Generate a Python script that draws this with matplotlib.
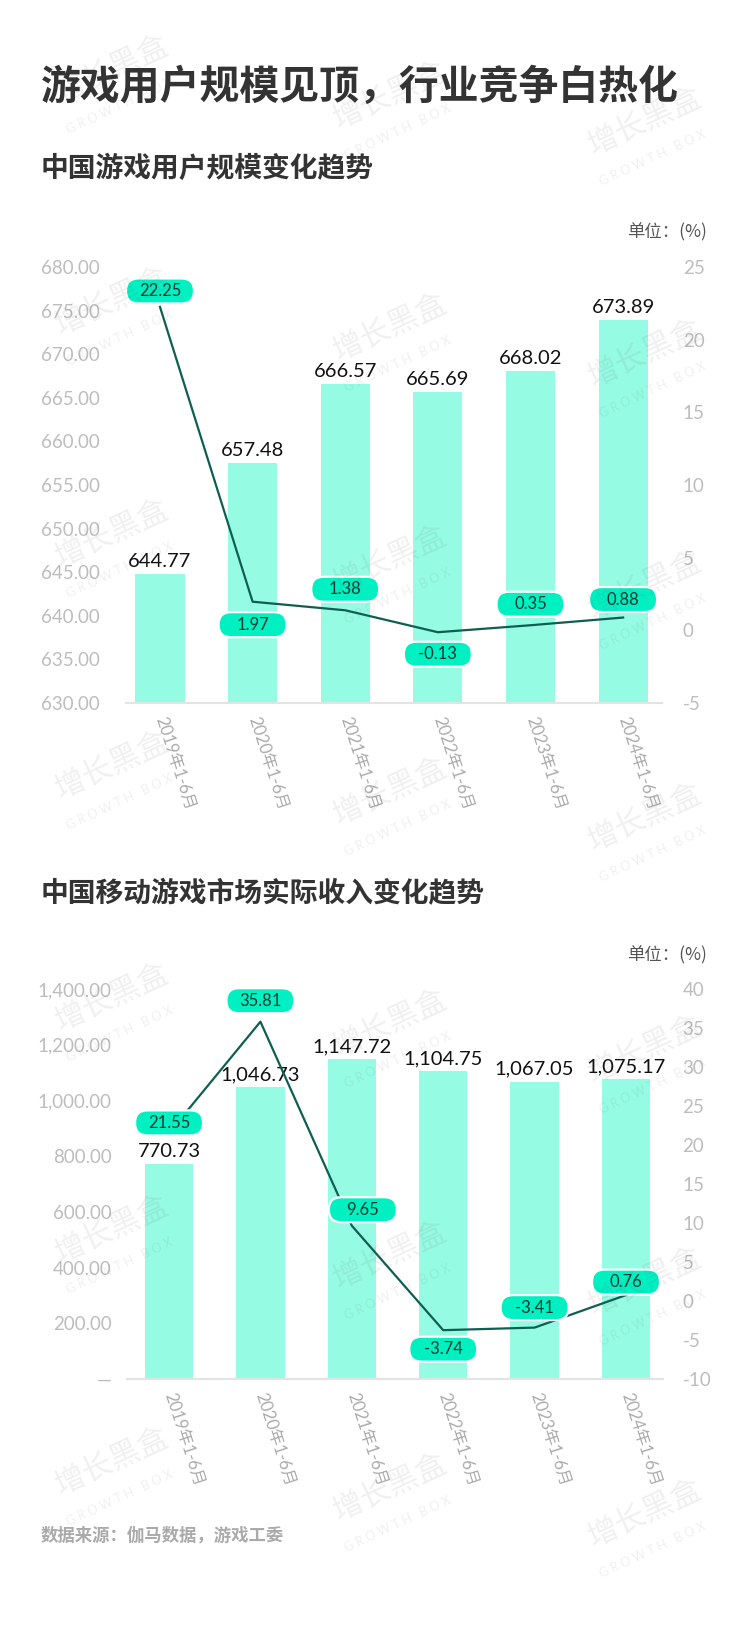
import matplotlib
matplotlib.use('Agg')
import matplotlib.pyplot as plt
import matplotlib.transforms as mtransforms
from matplotlib.patches import FancyBboxPatch

plt.rcParams['font.family'] = ['Lato', 'Noto Sans CJK SC', 'DejaVu Sans']

# data
periods = ['2019年1-6月', '2020年1-6月', '2021年1-6月', '2022年1-6月', '2023年1-6月', '2024年1-6月']

users = [644.77, 657.48, 666.57, 665.69, 668.02, 673.89]
users_growth = [22.25, 1.97, 1.38, -0.13, 0.35, 0.88]
users_ticks = [630, 635, 640, 645, 650, 655, 660, 665, 670, 675, 680]
users_growth_ticks = [-5, 0, 5, 10, 15, 20, 25]

revenue = [770.73, 1046.73, 1147.72, 1104.75, 1067.05, 1075.17]
revenue_growth = [21.55, 35.81, 9.65, -3.74, -3.41, 0.76]
revenue_ticks = [0, 200, 400, 600, 800, 1000, 1200, 1400]
revenue_growth_ticks = [-10, -5, 0, 5, 10, 15, 20, 25, 30, 35, 40]

# pill placement (px, + = up)
users_pill_dy = [16, -23, 21, -22, 21, 18]
users_pill_dx = [0, 0, 0, 0, 0, 0]
revenue_pill_dy = [10, 21, 16, -19, 20, 13]
revenue_pill_dx = [0, 0, 11, 0, 0, 0]

BAR = '#96FBE3'
PILL = '#00F0C2'
LINE = '#0E5F52'
TICK = '#BDBDBD'
W, H = 750, 1625
CJK = ['Noto Sans CJK SC', 'DejaVu Sans']

fig = plt.figure(figsize=(W / 100, H / 100), dpi=100)


def px_rect(left, right, top, bottom):
    return [left / W, 1 - bottom / H, (right - left) / W, (bottom - top) / H]


def pill(ax, x, y, text, dx, dy):
    t = fig.dpi_scale_trans + mtransforms.ScaledTranslation(x, y, ax.transData)
    w, h = 0.68, 0.25
    cx, cy = dx / 100, dy / 100
    p = FancyBboxPatch((cx - w / 2, cy - h / 2), w, h,
                       boxstyle=f'round,pad=0,rounding_size={h / 2}',
                       transform=t, fc=PILL, ec='white', lw=1.6,
                       zorder=5, clip_on=False)
    ax.add_artist(p)
    ax.annotate(text, (x, y), xytext=(dx * 0.72, dy * 0.72), textcoords='offset points',
                ha='center', va='center', fontsize=12, color='#0B3A33', zorder=6)


def panel(rect, xlim, bars, growth, lticks, rticks, lfmt, vfmt, pdx, pdy, lpad, rpad):
    ax = fig.add_axes(rect)
    ax2 = ax.twinx()
    xs = list(range(len(bars)))
    ax.bar(xs, bars, width=0.53, color=BAR, zorder=1)
    for x, v in zip(xs, bars):
        ax.annotate(vfmt(v), (x, v), xytext=(0, 3), textcoords='offset points',
                    ha='center', va='bottom', fontsize=14.5, color='#111111')
    ax.set_xlim(*xlim)
    ax.set_ylim(lticks[0], lticks[-1])
    ax.set_yticks(lticks)
    ax.set_yticklabels([lfmt(v) for v in lticks])
    ax2.set_ylim(rticks[0], rticks[-1])
    ax2.set_yticks(rticks)
    ax2.set_yticklabels([str(v) for v in rticks])
    ax.set_xticks(xs)
    ax.set_xticklabels(periods, rotation=-72, rotation_mode='anchor', ha='left', va='center',
                       fontsize=12, color='#ABABAB')
    ax.tick_params(axis='x', length=0, pad=10)
    ax.tick_params(axis='y', length=0, pad=lpad, labelsize=13.5, labelcolor=TICK)
    ax2.tick_params(axis='y', length=0, pad=rpad, labelsize=13.5, labelcolor=TICK)
    for a in (ax, ax2):
        for s in a.spines.values():
            s.set_visible(False)
    ax.spines['bottom'].set_visible(True)
    ax.spines['bottom'].set_color('#E3E3E3')
    ax.spines['bottom'].set_linewidth(1.5)
    ax2.plot(xs, growth, color=LINE, lw=1.6, zorder=3)
    for x, v, dx, dy in zip(xs, growth, pdx, pdy):
        pill(ax2, x, v, f'{v:.2f}', dx, dy)
    return ax, ax2


def fmt_rev(v):
    return '—' if v == 0 else f'{v:,.2f}'


# titles
fig.text(41 / W, 1 - 87 / H, '游戏用户规模见顶，行业竞争白热化', fontsize=28.7, fontweight='bold',
         color='#333333', va='center', family=CJK)
fig.text(41 / W, 1 - 169 / H, '中国游戏用户规模变化趋势', fontsize=20, fontweight='bold',
         color='#333333', va='center', family=CJK)
fig.text(707 / W, 1 - 232 / H, '单位：(%)', fontsize=12.5, color='#555555', ha='right', va='center', family=CJK)

panel(px_rect(126, 662, 267, 703), (-0.367, 5.42), users, users_growth, users_ticks,
      users_growth_ticks, lambda v: f'{v:.2f}', lambda v: f'{v:.2f}',
      users_pill_dx, users_pill_dy, 19, 15)

fig.text(41 / W, 1 - 894 / H, '中国移动游戏市场实际收入变化趋势', fontsize=20, fontweight='bold',
         color='#333333', va='center', family=CJK)
fig.text(707 / W, 1 - 955 / H, '单位：(%)', fontsize=12.5, color='#555555', ha='right', va='center', family=CJK)

panel(px_rect(127, 663, 989, 1379), (-0.46, 5.405), revenue, revenue_growth, revenue_ticks,
      revenue_growth_ticks, fmt_rev, lambda v: f'{v:,.2f}',
      revenue_pill_dx, revenue_pill_dy, 11, 14)

fig.text(41 / W, 1 - 1536 / H, '数据来源：伽马数据，游戏工委', fontsize=12.5, fontweight='bold',
         color='#AAAAAA', va='center', family=CJK)

# watermark tiles
for col, x0 in enumerate([0.15, 0.52, 0.86]):
    for row in range(7):
        y0 = 1 - (70 + 26 * col + 232 * row) / H
        fig.text(x0, y0, '增长黑盒', fontsize=22, color='#555555', alpha=0.09, rotation=25,
                 ha='center', va='center', family=CJK, zorder=20)
        fig.text(x0 + 0.01, y0 - 0.022, 'G R O W T H   B O X', fontsize=9, color='#555555',
                 alpha=0.09, rotation=25, ha='center', va='center', zorder=20)

fig.savefig('out.png', dpi=100)
